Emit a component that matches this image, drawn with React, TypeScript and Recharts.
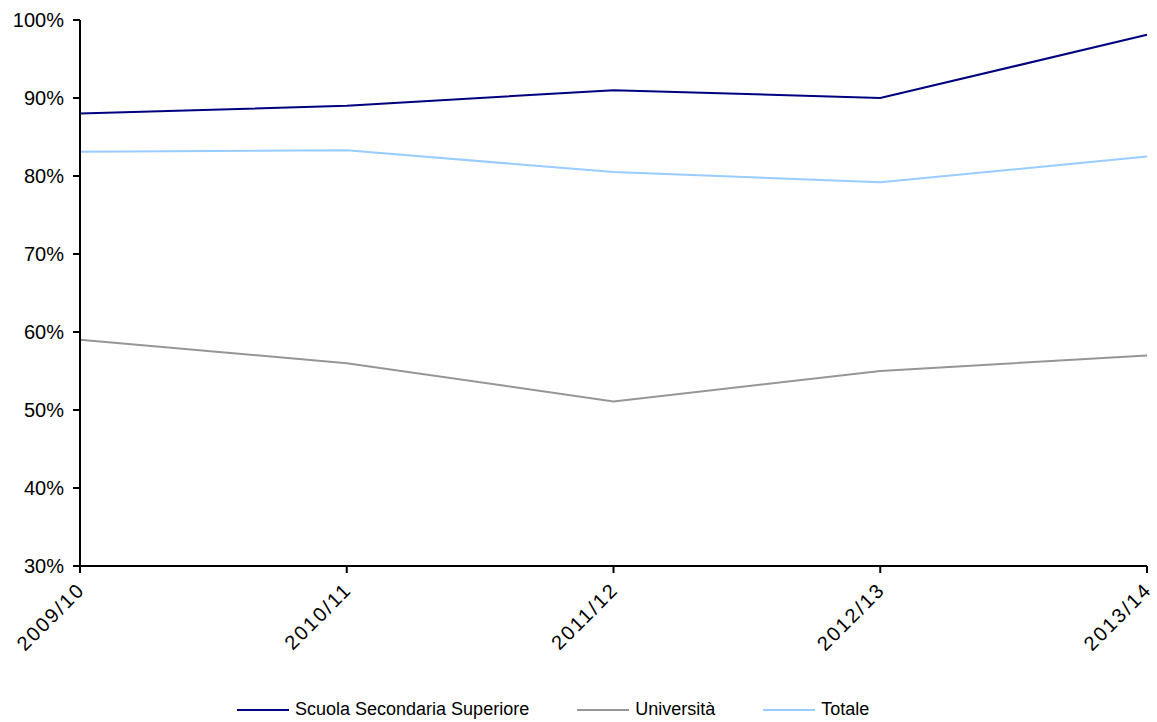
import { LineChart, Line, XAxis, YAxis, Legend } from 'recharts';

const years = ['2009/10', '2010/11', '2011/12', '2012/13', '2013/14'];
const scuola = [88, 89, 91, 90, 98.1];
const universita = [59, 56, 51.1, 55, 57];
const totale = [83.1, 83.3, 80.5, 79.2, 82.5];
const yTicks = [30, 40, 50, 60, 70, 80, 90, 100];

const seriesInfo = [
  { key: 'scuola', name: 'Scuola Secondaria Superiore', color: '#000080' },
  { key: 'universita', name: 'Università', color: '#969696' },
  { key: 'totale', name: 'Totale', color: '#99CCFF' },
];

const data = years.map((year, i) => ({
  year,
  scuola: scuola[i],
  universita: universita[i],
  totale: totale[i],
}));

const font = '"Liberation Sans", Arial, sans-serif';

function LegendContent() {
  return (
    <div style={{ display: 'flex', justifyContent: 'flex-start', paddingLeft: 213, fontFamily: font, fontSize: 18, color: '#000' }}>
      {seriesInfo.map((s) => (
        <div key={s.key} style={{ display: 'flex', alignItems: 'center', margin: '0 24px' }}>
          <div style={{ width: 52, height: 2, background: s.color, marginRight: 6 }} />
          <span>{s.name}</span>
        </div>
      ))}
    </div>
  );
}

export default function App() {
  return (
    <div style={{ position: 'absolute', left: 0, top: 0, background: '#fff' }}>
      <LineChart width={1157} height={722} data={data} margin={{ top: 20, right: 10, left: 0, bottom: 7 }}>
        <XAxis
          dataKey="year"
          stroke="#000"
          strokeWidth={2}
          tickSize={7}
          tickMargin={8}
          height={128}
          interval={0}
          angle={-45}
          textAnchor="end"
          dx={-4}
          tick={{ fill: '#000', fontSize: 20, fontFamily: font, letterSpacing: 2 }}
        />
        <YAxis
          domain={[30, 100]}
          ticks={yTicks}
          stroke="#000"
          strokeWidth={2}
          tickSize={7}
          tickMargin={9}
          width={80}
          tickFormatter={(v) => `${v}%`}
          tick={{ fill: '#000', fontSize: 20, fontFamily: font }}
        />
        <Legend
          content={<LegendContent />}
          wrapperStyle={{ position: 'absolute', top: 699, left: 0, width: 1157 }}
        />
        {seriesInfo.map((s) => (
          <Line
            key={s.key}
            type="linear"
            dataKey={s.key}
            name={s.name}
            stroke={s.color}
            strokeWidth={2}
            dot={false}
            isAnimationActive={false}
          />
        ))}
      </LineChart>
    </div>
  );
}
